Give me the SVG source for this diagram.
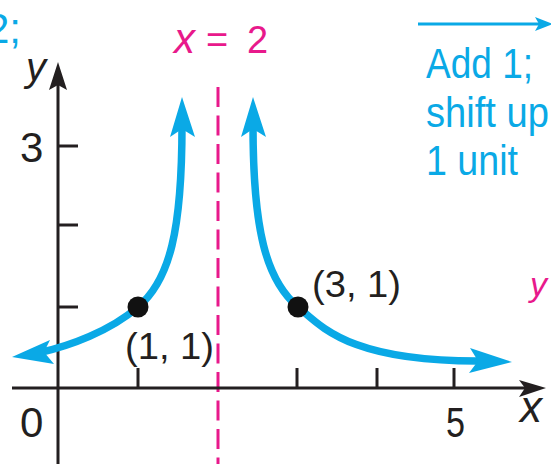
<svg xmlns="http://www.w3.org/2000/svg" width="551" height="464" viewBox="0 0 551 464">
<style>
.ax{stroke:#231f20;stroke-width:3;fill:none}
.axh{fill:#231f20;stroke:none}
.crv{stroke:#0aa9e6;stroke-width:7.5;fill:none}
.ah{fill:#0aa9e6;stroke:none}
.lbl{font-family:"Liberation Sans",Arial,sans-serif;fill:#231f20}
.blue{font-family:"Liberation Sans",Arial,sans-serif;fill:#0aa9e6}
.mag{font-family:"Liberation Sans",Arial,sans-serif;fill:#e8198b}
.it{font-style:italic}
</style>
<rect width="551" height="464" fill="#ffffff"/>

<g id="asymptote">
<line x1="218" y1="87" x2="218" y2="464" stroke="#e8198b" stroke-width="3" stroke-dasharray="20 8.5"/>
</g>

<g id="axes">
<line class="ax" x1="58" y1="464" x2="58" y2="80"/>
<path class="axh" d="M58,62 L67,90 L58,85 L49,90 Z"/>
<line class="ax" x1="12" y1="388" x2="528" y2="388"/>
<path class="axh" d="M546,388 L519,380 L525,388 L519,397 Z"/>
<g id="ticks">
<line class="ax" x1="138" y1="368" x2="138" y2="388"/>
<line class="ax" x1="297" y1="368" x2="297" y2="388"/>
<line class="ax" x1="377" y1="368" x2="377" y2="388"/>
<line class="ax" x1="454" y1="368" x2="454" y2="388"/>
<line class="ax" x1="58" y1="307" x2="78" y2="307"/>
<line class="ax" x1="58" y1="225" x2="78" y2="225"/>
<line class="ax" x1="58" y1="146" x2="78" y2="146"/>
</g>
</g>

<g id="curves">
<path class="crv" d="M182,125 C182,230 170,280 138,307 C110,331 70,346 38,353"/>
<path class="ah" d="M12,357 L50,340 L44,352 L54,364 Z"/>
<path class="ah" d="M182,97 L195,137 L182,129 L170,137 Z"/>
<path class="crv" d="M253,125 C253,230 266,280 298,307 C322,327 350,362 482,361"/>
<path class="ah" d="M253,97 L266,137 L253,129 L241,137 Z"/>
<path class="ah" d="M512,362 L470,348 L478,361 L469,373 Z"/>
</g>

<g id="points">
<circle cx="138" cy="307" r="10.5" fill="#111"/>
<circle cx="298" cy="307" r="10.5" fill="#111"/>
</g>

<g id="labels">
<text class="mag it" x="174" y="53" font-size="42">x</text>
<text class="mag" x="206" y="53" font-size="38">=</text>
<text class="mag" x="247" y="53" font-size="38">2</text>

<text class="lbl it" x="26" y="81" font-size="40">y</text>
<text class="lbl" x="20" y="162" font-size="42">3</text>
<text class="lbl" x="20" y="437" font-size="42">0</text>
<text class="lbl" x="446" y="437" font-size="42" textLength="19" lengthAdjust="spacingAndGlyphs">5</text>
<text class="lbl it" x="520" y="422" font-size="44">x</text>
<text class="lbl" x="125" y="359" font-size="36" textLength="89" lengthAdjust="spacingAndGlyphs">(1, 1)</text>
<text class="lbl" x="312" y="297" font-size="36" textLength="89" lengthAdjust="spacingAndGlyphs">(3, 1)</text>
<text class="mag it" x="530" y="296" font-size="34">y</text>

<text class="blue" x="21" y="43" font-size="42" text-anchor="end">2;</text>
<text class="blue" x="426" y="78" font-size="42" textLength="107" lengthAdjust="spacingAndGlyphs">Add 1;</text>
<text class="blue" x="426" y="127" font-size="42" textLength="123" lengthAdjust="spacingAndGlyphs">shift up</text>
<text class="blue" x="426" y="175" font-size="42" textLength="92" lengthAdjust="spacingAndGlyphs">1 unit</text>
</g>

<g id="transform-arrow">
<line x1="418" y1="24" x2="540" y2="24" stroke="#0aa9e6" stroke-width="3"/>
<path class="ah" d="M553,24 L535,17 L539,24 L535,31 Z"/>
</g>
</svg>
